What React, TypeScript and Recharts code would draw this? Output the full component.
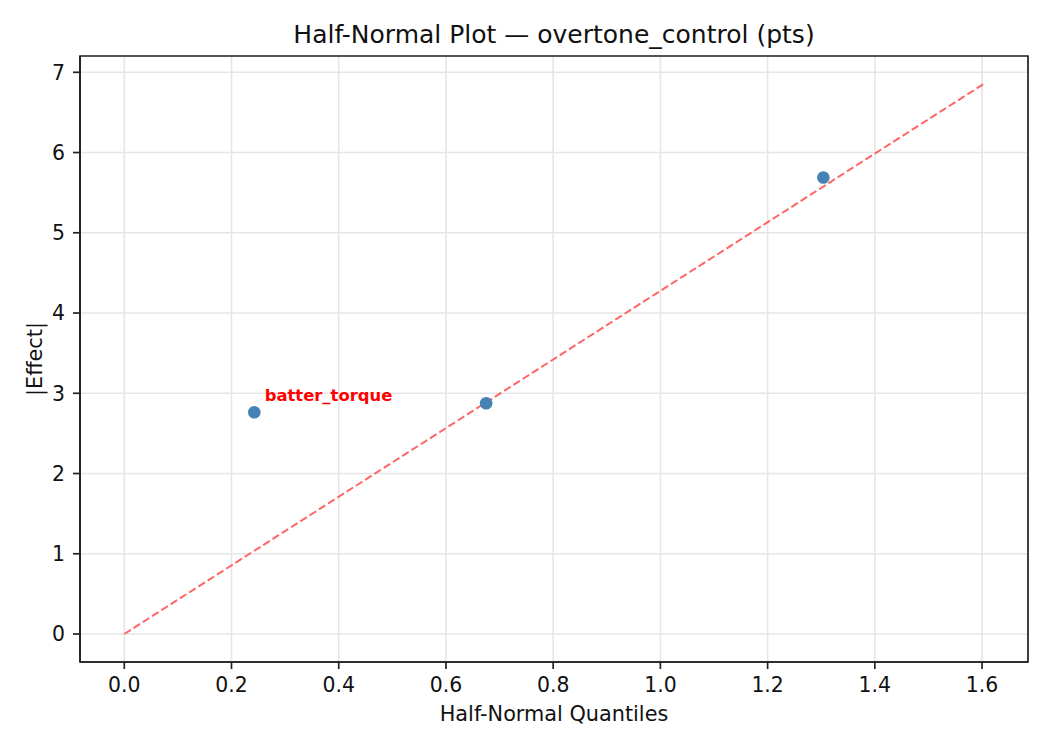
import {
  ScatterChart,
  Scatter,
  XAxis,
  YAxis,
  CartesianGrid,
  ReferenceArea,
} from "recharts";

// half-normal quantiles vs absolute effects
const quantiles = [0.2425, 0.675, 1.304];
const effects = [2.764, 2.876, 5.689];
const effectLabels = ["batter_torque", "", ""];

// reference line through origin
const fitX = [0, 1.604];
const fitY = [0, 6.859];

const xTicks = [0, 0.2, 0.4, 0.6, 0.8, 1.0, 1.2, 1.4, 1.6];
const yTicks = [0, 1, 2, 3, 4, 5, 6, 7];

const points = quantiles.map((q, i) => ({
  x: q,
  y: effects[i],
  label: effectLabels[i],
}));
const fitLine = fitX.map((x, i) => ({ x, y: fitY[i] }));

const FONT = "'DejaVu Sans', sans-serif";
const AXIS = "#222222";
const X_DOMAIN = [-0.0826, 1.6857];
const Y_DOMAIN = [-0.349, 7.203];

const PointShape = (props: any) => {
  const { cx, cy, payload } = props;
  return (
    <g>
      <circle cx={cx} cy={cy} r={6.3} fill="#4682b4" />
      {payload?.label ? (
        <text
          x={cx + 10.4}
          y={cy - 11.5}
          fill="#ff0000"
          fontSize={16.4}
          fontWeight="bold"
          fontFamily={FONT}
        >
          {payload.label}
        </text>
      ) : null}
    </g>
  );
};

const NoShape = () => <g />;

export default function App() {
  return (
    <div style={{ position: "relative", width: 1034, height: 734 }}>
      <ScatterChart
        width={1034}
        height={734}
        margin={{ top: 48, right: 14, bottom: 0, left: 0 }}
        style={{ fontFamily: FONT }}
      >
        <CartesianGrid stroke="#e6e6e6" strokeWidth={1.6} />
        <XAxis
          type="number"
          dataKey="x"
          domain={X_DOMAIN}
          ticks={xTicks}
          allowDataOverflow
          tickFormatter={(v: number) => v.toFixed(1)}
          height={80}
          tickSize={7}
          tickMargin={9}
          stroke={AXIS}
          axisLine={{ stroke: AXIS, strokeWidth: 1.7 }}
          tickLine={{ stroke: AXIS, strokeWidth: 1.7 }}
          tick={{ fill: "#111", fontSize: 20.4, fontFamily: FONT }}
          label={{
            value: "Half-Normal Quantiles",
            position: "insideBottom",
            offset: 21,
            fill: "#111",
            fontSize: 20.8,
            fontFamily: FONT,
          }}
        />
        <YAxis
          type="number"
          dataKey="y"
          domain={Y_DOMAIN}
          ticks={yTicks}
          allowDataOverflow
          width={72}
          tickSize={7}
          tickMargin={8}
          axisLine={{ stroke: AXIS, strokeWidth: 1.7 }}
          tickLine={{ stroke: AXIS, strokeWidth: 1.7 }}
          tick={{ fill: "#111", fontSize: 20.4, fontFamily: FONT }}
          label={{
            value: "|Effect|",
            angle: -90,
            position: "insideLeft",
            offset: 27,
            fill: "#111",
            fontSize: 20.8,
            fontFamily: FONT,
            style: { textAnchor: "middle" },
          }}
        />
        <Scatter
          data={fitLine}
          line={{ stroke: "#ff6666", strokeWidth: 2, strokeDasharray: "7.7 3.3" }}
          shape={NoShape}
          isAnimationActive={false}
        />
        <Scatter data={points} shape={PointShape} isAnimationActive={false} />
        {/* frame around the plot area */}
        <ReferenceArea
          x1={X_DOMAIN[0]}
          x2={X_DOMAIN[1]}
          y1={Y_DOMAIN[0]}
          y2={Y_DOMAIN[1]}
          fill="none"
          fillOpacity={0}
          stroke={AXIS}
          strokeWidth={1.7}
          ifOverflow="visible"
        />
      </ScatterChart>
      <svg
        width={1034}
        height={48}
        style={{ position: "absolute", left: 0, top: 0, pointerEvents: "none" }}
      >
        <text
          x={546}
          y={35.3}
          textAnchor="middle"
          fontSize={25}
          fontFamily={FONT}
          fill="#111"
        >
          Half-Normal Plot — overtone_control (pts)
        </text>
      </svg>
    </div>
  );
}
